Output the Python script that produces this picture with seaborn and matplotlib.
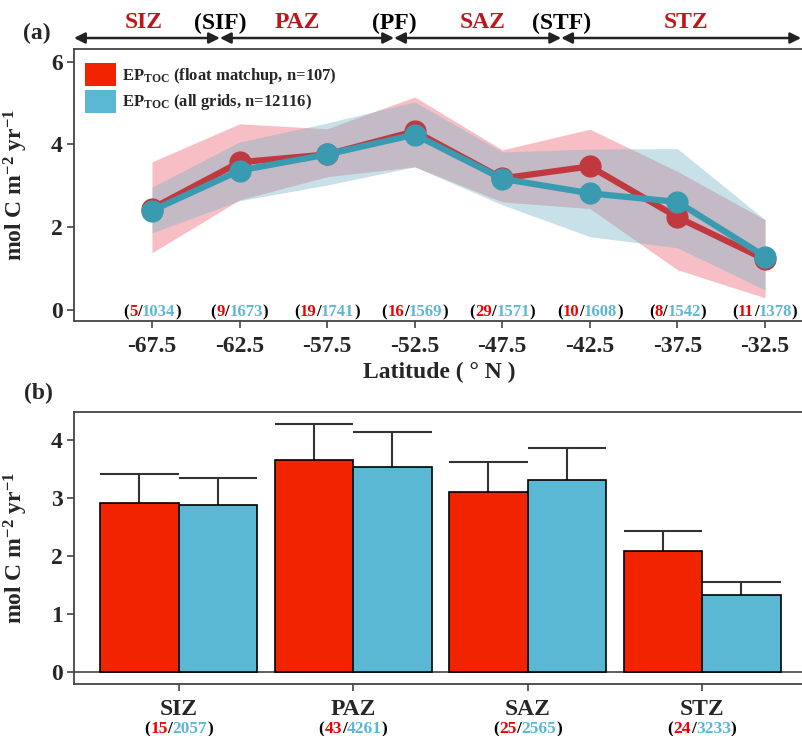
import numpy as np
import pandas as pd
import matplotlib
matplotlib.use("Agg")
import matplotlib.pyplot as plt
import seaborn as sns
from matplotlib.offsetbox import TextArea, HPacker, AnnotationBbox
from matplotlib.patches import Patch

# ---------------- data ----------------
lat = [-67.5, -62.5, -57.5, -52.5, -47.5, -42.5, -37.5, -32.5]
ep_float = [2.45, 3.57, 3.76, 4.32, 3.18, 3.47, 2.24, 1.22]
ep_grid = [2.40, 3.37, 3.76, 4.24, 3.17, 2.82, 2.61, 1.29]
float_lo = [1.38, 2.66, 3.22, 3.46, 2.61, 2.45, 0.97, 0.29]
float_hi = [3.58, 4.50, 4.38, 5.15, 3.87, 4.37, 3.35, 2.18]
grid_lo = [1.86, 2.64, 3.02, 3.46, 2.54, 1.77, 1.50, 0.48]
grid_hi = [2.97, 4.06, 4.52, 5.03, 3.82, 3.89, 3.90, 2.18]
n_float_lat = [5, 9, 19, 16, 29, 10, 8, 11]
n_grid_lat = [1034, 1673, 1741, 1569, 1571, 1608, 1542, 1378]

zones = ["SIZ", "PAZ", "SAZ", "STZ"]
bar_float = [2.92, 3.66, 3.10, 2.09]
bar_grid = [2.87, 3.54, 3.31, 1.33]
sd_float = [0.49, 0.62, 0.52, 0.34]
sd_grid = [0.47, 0.60, 0.55, 0.22]
n_float_zone = [15, 43, 25, 24]
n_grid_zone = [2057, 4261, 2565, 3233]

header_zones = ["SIZ", "PAZ", "SAZ", "STZ"]
header_zone_x = [-67.95, -59.2, -48.6, -37.0]
fronts = ["(SIF)", "(PF)", "(STF)"]
front_x = [-63.62, -53.68, -44.14]

# ---------------- style ----------------
sns.set_style("ticks")
plt.rcParams["font.family"] = ["Liberation Serif", "DejaVu Serif"]
plt.rcParams["font.weight"] = "bold"
plt.rcParams["mathtext.fontset"] = "custom"
plt.rcParams["mathtext.rm"] = "Liberation Serif:bold"
plt.rcParams["mathtext.bf"] = "Liberation Serif:bold"
plt.rcParams["mathtext.it"] = "Liberation Serif:bold:italic"
plt.rcParams["mathtext.default"] = "rm"

RED_BAR = "#F22400"
BLUE_BAR = "#5BB8D4"
RED_LINE = "#C0393F"
BLUE_LINE = "#3A9AB0"
RED_BAND = "#ED5F6E"
BLUE_BAND = "#76B4C6"
CNT_RED = "#F00000"
CNT_BLUE = "#5BB8D4"
HDR_RED = "#C0161B"
SPINE = "#444444"
FS = 17

W, H = 803, 736
fig = plt.figure(figsize=(W / 100, H / 100), dpi=100)
axa = fig.add_axes([74 / W, 1 - 321 / H, 731 / W, 272 / H])
axb = fig.add_axes([74 / W, 1 - 684 / H, 731 / W, 272 / H])

# ---------------- panel (a) ----------------
axa.fill_between(lat, float_lo, float_hi, color=RED_BAND, alpha=0.4, lw=0, zorder=1)
axa.fill_between(lat, grid_lo, grid_hi, color=BLUE_BAND, alpha=0.4, lw=0, zorder=1.1)

df_line = pd.DataFrame({
    "lat": lat * 2,
    "value": ep_float + ep_grid,
    "series": ["float"] * len(lat) + ["grid"] * len(lat),
})
sns.lineplot(data=df_line, x="lat", y="value", hue="series",
             hue_order=["float", "grid"],
             palette={"float": RED_LINE, "grid": BLUE_LINE},
             marker="o", markersize=16, markeredgewidth=0, linewidth=4.5,
             legend=False, sort=False, ax=axa, zorder=3)

axa.set_xlim(-71.95, -30.22)
axa.set_ylim(-0.27, 6.31)
axa.set_xticks(lat)
axa.set_xticklabels([f"{v:.1f}" for v in lat])
axa.set_yticks([0, 2, 4, 6])
axa.set_xlabel("Latitude ( \u00b0 N )", fontsize=FS, fontweight="bold", labelpad=3)
axa.set_ylabel(r"mol C m$^{-2}$ yr$^{-1}$", fontsize=FS, fontweight="bold")
axa.yaxis.set_label_coords(-44 / 731, 0.5)

# legend
handles = [Patch(facecolor=RED_BAR, edgecolor="none"),
           Patch(facecolor=BLUE_BAR, edgecolor="none")]
labels = [r"$\mathrm{EP_{TOC}}$ (float matchup, n=107)",
          r"$\mathrm{EP_{TOC}}$ (all grids, n=12116)"]
axa.legend(handles, labels, loc="upper left", bbox_to_anchor=(11 / 731, 1 - 14 / 272),
           frameon=False, borderaxespad=0, borderpad=0,
           handlelength=1.86, handleheight=1.74, labelspacing=0.22,
           handletextpad=0.36, prop={"weight": "bold", "size": 12})

# counts
def colored_counts(ax, x, y, a, b, fs, xycoords):
    parts = [("(", "black"), (str(a), CNT_RED), ("/", "black"),
             (str(b), CNT_BLUE), (")", "black")]
    children = [TextArea(t, textprops=dict(color=c, fontsize=fs, fontweight="bold"))
                for t, c in parts]
    pack = HPacker(children=children, pad=0, sep=0, align="baseline")
    ab = AnnotationBbox(pack, (x, y), xycoords=xycoords, frameon=False,
                        box_alignment=(0.5, 0.5), pad=0, annotation_clip=False)
    ax.add_artist(ab)

for x, a, b in zip(lat, n_float_lat, n_grid_lat):
    colored_counts(axa, x, -0.05, a, b, 12, "data")

# header arrows and labels
xt = axa.get_xaxis_transform()
bounds = [-71.95] + front_x + [-30.44]
for x0, x1 in zip(bounds[:-1], bounds[1:]):
    axa.annotate("", xy=(x1, 1.0404), xytext=(x0, 1.0404), xycoords=xt,
                 arrowprops=dict(arrowstyle="<|-|>", color="#222222", lw=1.8,
                                 shrinkA=0, shrinkB=0, mutation_scale=16),
                 annotation_clip=False)
for name, x in zip(header_zones, header_zone_x):
    axa.text(x, 1.0956, name, transform=xt, ha="center", va="center",
             color=HDR_RED, fontsize=FS, fontweight="bold", clip_on=False)
for name, x in zip(fronts, front_x):
    axa.text(x, 1.0956, name, transform=xt, ha="center", va="center",
             color="black", fontsize=FS, fontweight="bold", clip_on=False)

# ---------------- panel (b) ----------------
df_bar = pd.DataFrame({
    "zone": zones * 2,
    "value": bar_float + bar_grid,
    "series": ["float"] * len(zones) + ["grid"] * len(zones),
})
sns.barplot(data=df_bar, x="zone", y="value", hue="series", order=zones,
            hue_order=["float", "grid"],
            palette={"float": RED_BAR, "grid": BLUE_BAR}, saturation=1,
            width=0.9, edgecolor="black", linewidth=1.2, errorbar=None,
            legend=False, ax=axb, zorder=2)

axb.axhline(0, color=SPINE, lw=1.2, zorder=1)
for cont, sds in zip(axb.containers, [sd_float, sd_grid]):
    for bar, sd in zip(cont, sds):
        x0 = bar.get_x()
        w = bar.get_width()
        top = bar.get_height()
        axb.vlines(x0 + w / 2, top, top + sd, color="#333333", lw=1.5, zorder=1.5)
        axb.hlines(top + sd, x0, x0 + w, color="#333333", lw=1.5, zorder=1.5)

axb.set_xlim(-0.6, 3.59)
axb.set_ylim(-0.207, 4.48)
axb.set_yticks([0, 1, 2, 3, 4])
axb.set_xlabel("")
axb.set_ylabel(r"mol C m$^{-2}$ yr$^{-1}$", fontsize=FS, fontweight="bold")
axb.yaxis.set_label_coords(-44 / 731, 0.5)

xtb = axb.get_xaxis_transform()
for i, (a, b) in enumerate(zip(n_float_zone, n_grid_zone)):
    colored_counts(axb, i, -(729 - 684) / 272, a, b, 12.5, xtb)

# ---------------- common axis styling ----------------
for ax in (axa, axb):
    for side in ("top", "left", "bottom", "right"):
        ax.spines[side].set_visible(True)
        ax.spines[side].set_color(SPINE)
        ax.spines[side].set_linewidth(1.3)
    ax.tick_params(axis="both", direction="out", length=5, width=1.2,
                   color=SPINE, labelsize=FS)
    ax.tick_params(axis="y", pad=3)
    ax.tick_params(axis="x", pad=6)
    for lab in ax.get_xticklabels() + ax.get_yticklabels():
        lab.set_fontweight("bold")

fig.text(37 / W, 1 - 33 / H, "(a)", ha="center", va="center", fontsize=FS, fontweight="bold")
fig.text(38 / W, 1 - 393 / H, "(b)", ha="center", va="center", fontsize=FS, fontweight="bold")

fig.savefig("out.png", dpi=100)
